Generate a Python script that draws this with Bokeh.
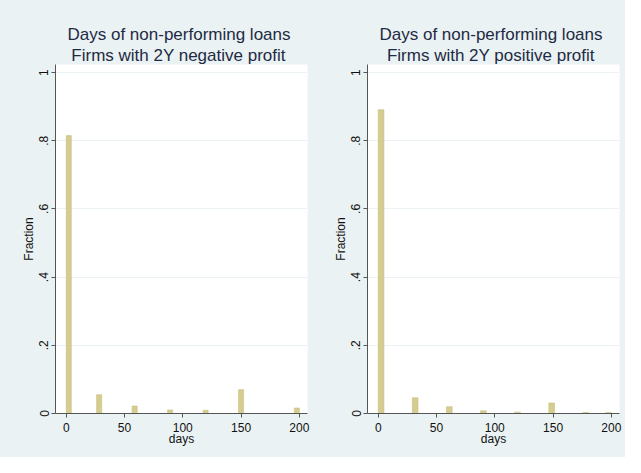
import math
from bokeh.plotting import figure
from bokeh.layouts import row
from bokeh.models import FixedTicker, Title, ColumnDataSource
from bokeh.embed import file_html
from bokeh.resources import INLINE

# ---- data ----
title_line1 = "Days of non-performing loans"
title_neg = " Firms with 2Y negative profit"
title_pos = " Firms with 2Y positive profit"

days_neg = [0, 30, 60, 90, 120, 150, 200]
frac_neg = [0.815, 0.055, 0.022, 0.0105, 0.0095, 0.070, 0.016]
bins_neg = 46

days_pos = [0, 30, 60, 90, 120, 150, 180, 200]
frac_pos = [0.891, 0.046, 0.020, 0.008, 0.004, 0.031, 0.003, 0.003]
bins_pos = 41

hist_min, hist_max = 0, 200
x_ticks = [0, 50, 100, 150, 200]
y_ticks = [0, 0.2, 0.4, 0.6, 0.8, 1.0]
y_tick_labels = ["0", ".2", ".4", ".6", ".8", "1"]
x_label = "days"
y_label = "Fraction"

# ---- styles ----
BG = "#EAF2F3"
BAR = "#D5CC8F"
BAR_LINE = "#C9BF80"
AXIS = "#555555"
TITLE_C = "#1F2A44"
FONT = "Liberation Sans"


def make_panel(days, frac, nbins, line2, width, border_right, off1, off2):
    w = (hist_max - hist_min) / nbins
    lefts, rights = [], []
    for d in days:
        k = min(int(math.floor((d - hist_min) / w)), nbins - 1)
        lefts.append(hist_min + k * w)
        rights.append(hist_min + (k + 1) * w)
    src = ColumnDataSource(dict(left=lefts, right=rights, top=frac))

    p = figure(width=width, height=457, x_range=(-9.2, 207.0), y_range=(0, 1.0236),
               output_backend="svg", toolbar_location=None, title=None,
               min_border_left=55, min_border_right=border_right,
               min_border_top=64, min_border_bottom=44,
               background_fill_color="white", border_fill_color=BG,
               outline_line_color=None)
    p.quad(left="left", right="right", bottom=0, top="top", source=src,
           fill_color=BAR, line_color=BAR_LINE, line_width=0.6)

    for t, off in ((line2, off2), (title_line1, off1)):
        p.add_layout(Title(text=t, align="right", offset=off, text_font=FONT,
                           text_font_size="17px", text_font_style="normal",
                           text_color=TITLE_C, standoff=0), "above")

    p.xaxis.ticker = FixedTicker(ticks=x_ticks)
    p.yaxis.ticker = FixedTicker(ticks=y_ticks)
    p.yaxis.major_label_overrides = {v: s for v, s in zip(y_ticks, y_tick_labels)}
    p.yaxis.major_label_orientation = "vertical"
    for ax in (p.xaxis[0], p.yaxis[0]):
        ax.axis_line_color = AXIS
        ax.major_tick_line_color = AXIS
        ax.minor_tick_line_color = None
        ax.major_tick_out = 4
        ax.major_tick_in = 0
        ax.major_label_text_font = FONT
        ax.major_label_text_font_size = "12px"
        ax.major_label_text_color = "#111111"
        ax.axis_label_text_font = FONT
        ax.axis_label_text_font_size = "12px"
        ax.axis_label_text_font_style = "normal"
        ax.axis_label_text_color = "#111111"
    p.xaxis.axis_label = x_label
    p.yaxis.axis_label = y_label
    p.xaxis.major_label_standoff = 5
    p.xaxis.axis_label_standoff = -3
    p.yaxis.major_label_standoff = 3
    p.yaxis.axis_label_standoff = 1
    p.xgrid.grid_line_color = None
    p.ygrid.grid_line_color = BG
    p.ygrid.grid_line_width = 1
    return p


p1 = make_panel(days_neg, frac_neg, bins_neg, title_neg, 312, 5, 17, 17)
p2 = make_panel(days_pos, frac_pos, bins_pos, title_pos, 313, 6, 17, 20)
layout = row(p1, p2, spacing=0, styles={"background-color": BG})

open("out.html", "w").write(file_html(layout, INLINE))
